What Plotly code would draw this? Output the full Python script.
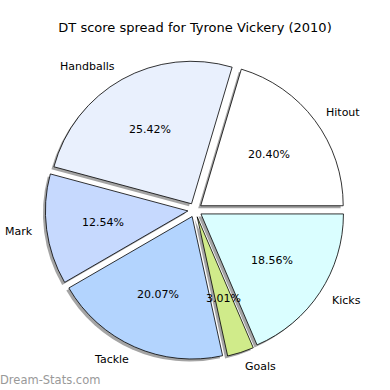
import math
import plotly.graph_objects as go

labels = ["Hitout", "Handballs", "Mark", "Tackle", "Goals", "Kicks"]
values = [20.40, 25.42, 12.54, 20.07, 3.01, 18.56]
colors = ["#ffffff", "#e9f0fd", "#c6d9fe", "#b3d4fe", "#d0eb8a", "#dafeff"]
explode = 0.05

W = H = 390
CX, CY = 195, 210          # pie centre in pixels (from top-left)
R = 142.5                  # pie radius in pixels
half = R * (1 + explode)
SH = 2.5                   # shadow offset in px

total = sum(values)
# plotly: counterclockwise pies end their first slice at `rotation`;
# shift so the first slice starts at 3 o'clock
rot = 90 - values[0] / total * 360

def dom(cx, cy):
    return dict(x=[(cx - half) / W, (cx + half) / W],
                y=[1 - (cy + half) / H, 1 - (cy - half) / H])

fig = go.Figure()
fig.add_trace(go.Pie(
    labels=labels, values=values, sort=False, direction="counterclockwise",
    rotation=rot, pull=[explode] * len(values), textinfo="none",
    marker=dict(colors=["rgba(90,90,90,0.55)"] * len(values), line=dict(width=0)),
    domain=dom(CX - SH, CY + SH), showlegend=False, hoverinfo="skip"))
fig.add_trace(go.Pie(
    labels=labels, values=values, sort=False, direction="counterclockwise",
    rotation=rot, pull=[explode] * len(values), textinfo="none",
    marker=dict(colors=colors, line=dict(color="black", width=0.8)),
    domain=dom(CX, CY), showlegend=False))

annotations = []
start = 0.0
for lab, v in zip(labels, values):
    mid = math.radians((start + v / 2) / total * 360)
    start += v
    c, s = math.cos(mid), math.sin(mid)
    lx = CX + (explode + 1.1) * R * c
    ly = CY - (explode + 1.1) * R * s
    annotations.append(dict(x=lx / W, y=1 - ly / H, xref="paper", yref="paper",
                            text=lab, showarrow=False,
                            xanchor="left" if c > 0 else "right", yanchor="middle",
                            xshift=-2 if c > 0 else 2,
                            font=dict(family="DejaVu Sans", size=11, color="black")))
    px = CX + (explode + 0.6) * R * c
    py = CY - (explode + 0.6) * R * s
    annotations.append(dict(x=px / W, y=1 - py / H, xref="paper", yref="paper",
                            text="%.2f%%" % v, showarrow=False,
                            xanchor="center", yanchor="middle",
                            font=dict(family="DejaVu Sans", size=11, color="black")))

annotations.append(dict(x=0, y=1 - 380 / H, xref="paper", yref="paper",
                        text="Dream-Stats.com", showarrow=False,
                        xanchor="left", yanchor="middle", xshift=-2,
                        font=dict(family="DejaVu Sans", size=11.5, color="#999999")))

fig.update_layout(
    width=W, height=H, margin=dict(l=0, r=0, t=0, b=0),
    paper_bgcolor="white", plot_bgcolor="white",
    title=dict(text="DT score spread for Tyrone Vickery (2010)", x=0.5, xanchor="center",
               y=1 - 27 / H, yanchor="middle",
               font=dict(family="DejaVu Sans", size=13, color="black")),
    annotations=annotations)

fig.write_html("out.html")
